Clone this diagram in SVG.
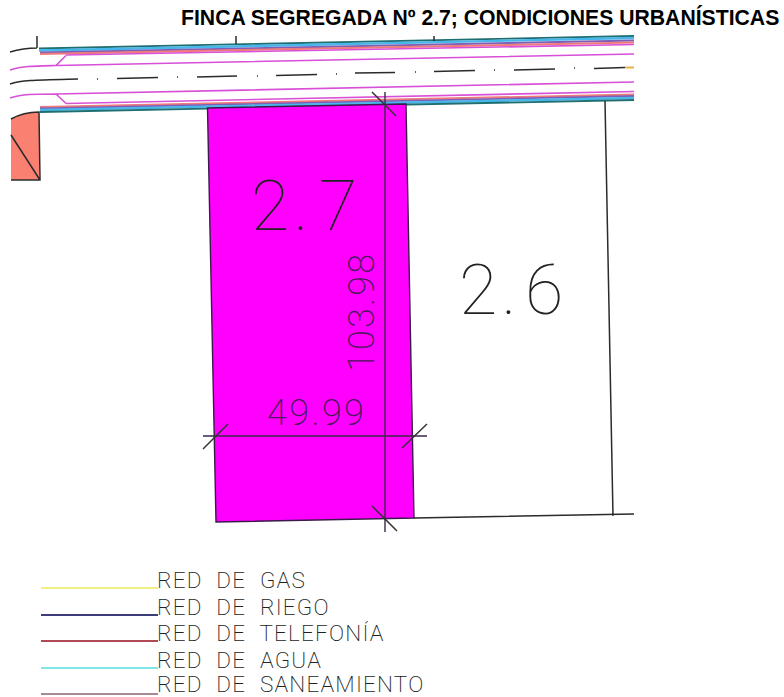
<svg xmlns="http://www.w3.org/2000/svg" width="784" height="697" viewBox="0 0 784 697">
<style>
.t{font-family:"Liberation Sans",Arial,sans-serif;font-weight:bold;font-size:21.2px;fill:#000}
.cad{font-family:"Roboto","Liberation Sans",sans-serif;font-weight:200;fill:#222}
.big{font-weight:100;font-size:70px}
.dim{font-size:36px;fill:#4a1a5a}
.leg{font-size:22.5px;letter-spacing:1.200px;word-spacing:7px}
.k{fill:none;stroke:#2b2b2b;stroke-width:1.500}
.m{fill:none;stroke:#d84fd8;stroke-width:1.600}
</style>
<rect width="784" height="697" fill="#fff"/>
<text class="t" x="181" y="25">FINCA SEGREGADA Nº 2.7; CONDICIONES URBANÍSTICAS</text>
<g id="road">
<path d="M39 48.500L634 36" stroke="#1f6e70" stroke-width="1.800" fill="none"/>
<path d="M39 50.500L634 38" stroke="#47b6ea" stroke-width="2.400" fill="none"/>
<path d="M40 52.500L634 40.500" stroke="#7d5fb8" stroke-width="2" fill="none"/>
<path d="M40 54L634 42.500" stroke="#f07a7a" stroke-width="2" fill="none"/>
<path d="M66 55L634 44.500" class="m"/>
<path d="M10 70C22 66 34 66 56 65.500L634 54M56 65.500L66 55.500" class="m"/>
<path d="M10 98C22 94 34 94 56 94L634 82M56 94L66 103.500" class="m"/>
<path d="M66 103.500L634 91.500" class="m"/>
<path d="M40 107L634 94.500" stroke="#f07a7a" stroke-width="2" fill="none"/>
<path d="M40 108.500L634 96" stroke="#7d5fb8" stroke-width="1.800" fill="none"/>
<path d="M40 110L634 98" stroke="#47b6ea" stroke-width="2.400" fill="none"/>
<path d="M40 112L634 100" stroke="#1f6e70" stroke-width="1.800" fill="none"/>
<path d="M10 84C22 80 36 80 78 79M117 78.500L158 77.500M197 77L237 76M276 75.500L317 74.500M355 73L395 72.500M434 71.500L475 70.500M514 70L555 69M594 68.500L625 67.500" class="k"/>
<path d="M625 67.500L634 67.500" stroke="#e8b34a" stroke-width="2" fill="none"/>
<path d="M97 79h1M177 77h1M257 76h1M336 74h1M415 72h1M494 70h1M574 68h1" class="k"/>
<path d="M10 52C20 49 28 48 37 48M37 36V48M236 36V44M434 36V41" class="k"/>
</g>
<g id="corner">
<path d="M11 119C20 114 28 112 39 112V180H11Z" fill="#fa8072"/>
<path d="M11 119C20 114 28 112 39 112L40 180H11M11 135L40 180" class="k"/>
</g>
<g id="lot-2-7">
<path d="M207.500 108L406 104L414 518L216 522Z" fill="#f0f" stroke="#3a1a4a" stroke-width="1.400"/>
<text class="cad big" x="251 293.500 319" y="230">2.7</text>
</g>
<g id="lot-2-6">
<path d="M605 101L613 516M414 518L634 514" class="k"/>
<text class="cad big" x="459 501.500 525" y="314">2.6</text>
</g>
<g id="connectors">
<path d="M385 92V532M203 436H427" stroke="#3a2a4a" stroke-width="1.400" fill="none"/>
<path d="M372 92L396 116M372 506L397 531M203 449L228 424M402 448L427 424" stroke="#333" stroke-width="1.500" fill="none"/>
<text class="cad dim" x="267" y="425" letter-spacing="2.400">49.99</text>
<text class="cad dim" transform="translate(374 372) rotate(-90)" letter-spacing="2.200">103.98</text>
</g>
<g id="legend">
<path d="M41 588H158" stroke="#f2ef80" stroke-width="1.800"/>
<path d="M41 615H158" stroke="#3c3c78" stroke-width="1.800"/>
<path d="M41 641H158" stroke="#b04a55" stroke-width="1.800"/>
<path d="M41 668H158" stroke="#7fe6e6" stroke-width="2"/>
<path d="M41 694H158" stroke="#a78a94" stroke-width="1.800"/>
<text class="cad leg" x="157" y="588">RED DE GAS</text>
<text class="cad leg" x="157" y="615">RED DE RIEGO</text>
<text class="cad leg" x="157" y="641">RED DE TELEFONÍA</text>
<text class="cad leg" x="157" y="668">RED DE AGUA</text>
<text class="cad leg" x="157" y="692">RED DE SANEAMIENTO</text>
</g>
</svg>
